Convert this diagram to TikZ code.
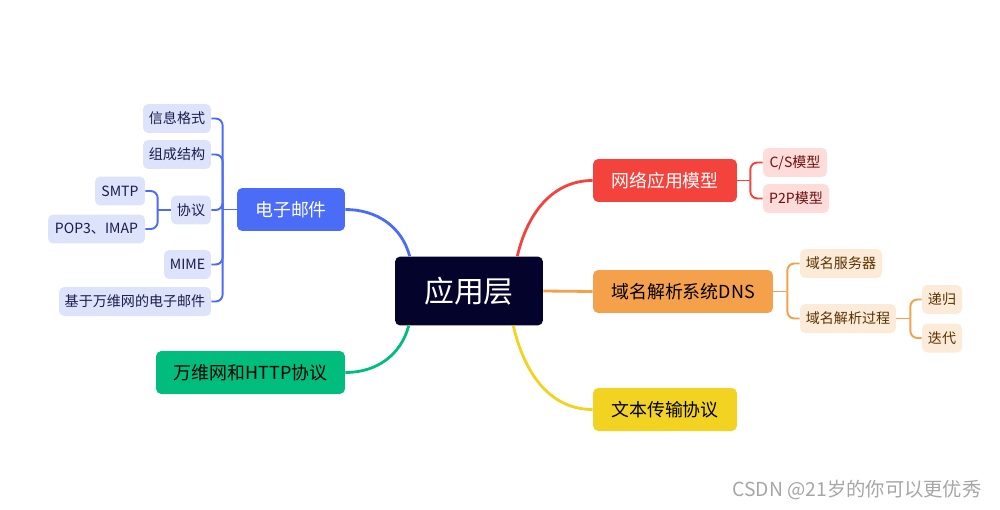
\documentclass[tikz,border=0pt]{standalone}
\usepackage{fontspec}
\setmainfont{Noto Sans CJK SC}
\usepackage{xcolor}
\usepackage{tikz}
\usetikzlibrary{calc}
\definecolor{rootnavy}{HTML}{03032B}
\definecolor{mmblue}{HTML}{4A6CF7}
\definecolor{mmbluelt}{HTML}{DDE3FA}
\definecolor{mmbluetx}{HTML}{1C1C4E}
\definecolor{mmred}{HTML}{F4433C}
\definecolor{mmredlt}{HTML}{FDDCDA}
\definecolor{mmredtx}{HTML}{6E0F0F}
\definecolor{mmorange}{HTML}{F5A04B}
\definecolor{mmorangelt}{HTML}{FDEBDA}
\definecolor{mmorangetx}{HTML}{5B3200}
\definecolor{mmgreen}{HTML}{00BC7D}
\definecolor{mmyellow}{HTML}{F2D322}
\tikzset{
  rootbox/.style={fill=rootnavy,text=white,rounded corners=3pt,minimum width=2.96cm,
    minimum height=1.38cm,inner sep=0pt,font=\fontsize{17}{20}\selectfont},
  topicbox/.style={rounded corners=3pt,minimum height=0.86cm,inner sep=0pt,
    font=\fontsize{10.2}{12}\selectfont},
  subbox/.style={rounded corners=3pt,minimum height=0.58cm,inner sep=0pt,
    font=\fontsize{8}{10}\selectfont},
  bluesub/.style={subbox,fill=mmbluelt,text=mmbluetx},
  redsub/.style={subbox,fill=mmredlt,text=mmredtx},
  orangesub/.style={subbox,fill=mmorangelt,text=mmorangetx},
  mainlink/.style={line width=1.6pt},
  sublink/.style={line width=1.1pt,rounded corners=4pt},
}

\begin{document}
\begin{tikzpicture}[x=0.02cm,y=0.02cm]
  \useasboundingbox (0,0) rectangle (1000,-510);
  % ---- centre and first level ----
  \node[rootbox] (root) at (469,-291) {应用层};
  \node[topicbox,fill=mmblue,text=white,minimum width=2.16cm] (email) at (291,-209.5) {电子邮件};
  \node[topicbox,fill=mmred,text=white,minimum width=2.88cm] (model) at (665,-180.5) {网络应用模型};
  \node[topicbox,fill=mmorange,text=black,minimum width=3.6cm] (dns) at (683,-291.5) {域名解析系统DNS};
  \node[topicbox,fill=mmgreen,text=black,minimum width=3.78cm] (www) at (250.5,-372.5) {万维网和HTTP协议};
  \node[topicbox,fill=mmyellow,text=black,minimum width=2.88cm] (ftp) at (665,-409.5) {文本传输协议};
  \draw[mainlink,mmblue] ($(root.north west)+(15,0)$) to[out=105,in=0] (email.east);
  \draw[mainlink,mmred] ($(root.north east)+(-26,0)$) to[out=77,in=180] (model.west);
  \draw[mainlink,mmorange] (root.east) -- (dns.west);
  \draw[mainlink,mmgreen] ($(root.south west)+(14,0)$) to[out=-105,in=0] (www.east);
  \draw[mainlink,mmyellow] ($(root.south east)+(-30,0)$) to[out=-77,in=180] (ftp.west);
  % ---- e-mail branch ----
  \node[bluesub,minimum width=1.36cm] (fmt) at (177,-118.5) {信息格式};
  \node[bluesub,minimum width=1.36cm] (struct) at (177,-154.5) {组成结构};
  \node[bluesub,minimum width=0.8cm] (proto) at (191,-210) {协议};
  \node[bluesub,minimum width=1.0cm] (smtp) at (120,-191) {SMTP};
  \node[bluesub,minimum width=1.94cm] (pop) at (96.5,-229) {POP3、IMAP};
  \node[bluesub,minimum width=0.94cm] (mime) at (187.5,-264.5) {MIME};
  \node[bluesub,minimum width=3.04cm] (webmail) at (135,-301.5) {基于万维网的电子邮件};
  \coordinate (emj) at ($(email.west)+(-14,0)$);
  \coordinate (prj) at ($(proto.west)+(-13,0)$);
  \draw[sublink,mmblue] (email.west) -- (emj);
  \foreach \k in {fmt,struct,proto,mime,webmail}
    \draw[sublink,mmblue] (emj) |- (\k.east);
  \draw[sublink,mmblue] (proto.west) -- (prj);
  \foreach \k in {smtp,pop}
    \draw[sublink,mmblue] (prj) |- (\k.east);
  % ---- application model branch ----
  \node[redsub,minimum width=1.28cm] (cs) at (795,-162.5) {C/S模型};
  \node[redsub,minimum width=1.32cm] (ptp) at (796,-198.5) {P2P模型};
  \coordinate (mdj) at ($(model.east)+(13,0)$);
  \draw[sublink,mmred] (model.east) -- (mdj);
  \foreach \k in {cs,ptp}
    \draw[sublink,mmred] (mdj) |- (\k.west);
  % ---- DNS branch ----
  \node[orangesub,minimum width=1.64cm] (server) at (841,-263.5) {域名服务器};
  \node[orangesub,minimum width=1.92cm] (resolve) at (848,-318.5) {域名解析过程};
  \node[orangesub,minimum width=0.8cm] (recur) at (942,-299.5) {递归};
  \node[orangesub,minimum width=0.8cm] (iter) at (942,-338) {迭代};
  \coordinate (dnj) at ($(dns.east)+(14,0)$);
  \coordinate (rsj) at ($(resolve.east)+(14,0)$);
  \draw[sublink,mmorange] (dns.east) -- (dnj);
  \foreach \k in {server,resolve}
    \draw[sublink,mmorange] (dnj) |- (\k.west);
  \draw[sublink,mmorange] (resolve.east) -- (rsj);
  \foreach \k in {recur,iter}
    \draw[sublink,mmorange] (rsj) |- (\k.west);
  % watermark
  \node[text=black!35,font=\fontsize{11}{13}\selectfont] (mark) at (857,-490) {CSDN @21岁的你可以更优秀};
\end{tikzpicture}
\end{document}
